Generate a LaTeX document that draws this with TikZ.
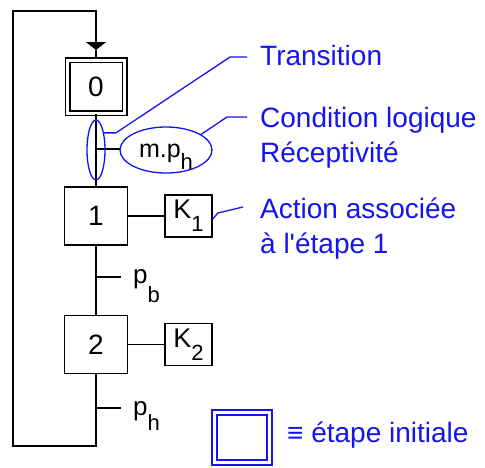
\documentclass[tikz,border=0pt]{standalone}
\usepackage{fontspec}
\setmainfont{Liberation Sans}
\usepackage{tikz}
\usetikzlibrary{arrows.meta,positioning,shapes.geometric}
\definecolor{noteblue}{RGB}{20,20,240}
\newcommand{\lowsub}[2][13pt]{\raisebox{-#1}{\fontsize{22}{22}\selectfont #2}}
\tikzset{
    etape/.style={draw, line width=1.6pt, minimum width=63pt,
                  minimum height=58pt, inner sep=0pt,
                  font=\fontsize{28}{34}\selectfont},
    etapeinit/.style={draw, double, line width=1.5pt, double distance=3pt,
                      minimum width=57pt, minimum height=53pt, inner sep=0pt,
                      font=\fontsize{28}{34}\selectfont},
    action/.style={draw, line width=1.6pt, minimum width=47pt,
                   minimum height=42pt, inner sep=0pt,
                   font=\fontsize{27}{32}\selectfont},
    ring/.style={draw=noteblue, ellipse, line width=1.3pt, inner sep=0pt,
                 font=\fontsize{25}{30}\selectfont},
    note/.style={text=noteblue, anchor=base west, inner sep=0pt,
                 align=left, font=\fontsize{28}{35}\selectfont},
    cond/.style={anchor=base west, inner sep=0pt,
                 font=\fontsize{26}{30}\selectfont},
}
\begin{document}
\begin{tikzpicture}[x=1pt, y=-1pt,
    link/.style={line width=1.6pt},
    leader/.style={noteblue, line width=1.3pt}
]
    \useasboundingbox (0,0) rectangle (485,467);

    % steps and actions
    \node[etapeinit] (e0) at (96,86.5) {0};
    \node[etape] (e1) at (96,216) {1};
    \node[etape] (e2) at (96,344.5) {2};
    \node[action] (k1) at (188.5,216) {K\lowsub{1}};
    \node[action] (k2) at (188.5,344.5) {K\lowsub{2}};

    \coordinate (t0) at (96,149);
    \coordinate (t1) at (96,277);
    \coordinate (t2) at (96,408);
    \coordinate (entry) at (96,50);
    \coordinate (loopbot) at (96,446);
    \coordinate (looptop) at (13,11);

    \draw[link] (e0) -- (e1);
    \draw[link] (e1) -- (e2);
    \draw[link, -{Triangle[width=20pt,length=8pt]}]
        (e2) -- (loopbot) -| (looptop) -| (entry);
    \draw[link] (entry) -- (e0);
    \draw[link] (e1) -- (k1);
    \draw[link] (e2) -- (k2);

    % transitions
    \draw[link] (t0) -- ++(24,0);
    \draw[link] (t1) -- ++(25,0);
    \draw[link] (t2) -- ++(25,0);
    \node[cond] (pb) at (133,283) {p\lowsub[19pt]{b}};
    \node[cond] (ph) at (133,415) {p\lowsub[15pt]{h}};

    % notes
    \node[ring, minimum width=18pt, minimum height=60pt] (trell) at (96,150) {};
    \node[ring, minimum width=92pt, minimum height=46pt] (condell) at (166,150)
        {\raisebox{-7pt}[0pt][0pt]{m.p\lowsub[12pt]{h}}};
    \node[note] (trlab) at (260,65) {Transition};
    \node[note] (condlab) at (260,162) {Condition logique\\Réceptivité};
    \node[note] (actlab) at (260,253) {Action associée\\à l\textquotesingle étape 1};

    \draw[leader] (trell.65) -- ++(12,0)
        -- ([xshift=-30pt,yshift=8pt]trlab.base west)
        -- ([xshift=-13pt,yshift=8pt]trlab.base west);
    \draw[leader] (condell.24)
        -- ([xshift=-33pt,yshift=45pt]condlab.base west)
        -- ([xshift=-13pt,yshift=45pt]condlab.base west);
    \draw[leader] ([yshift=-3pt]k1.east) -- ++(5,-6)
        -- ([xshift=-17pt,yshift=46pt]actlab.base west);

    % legend
    \node[etapeinit, draw=noteblue, line width=2pt, minimum width=55pt,
          minimum height=50pt] (legend) at (242,437.5) {};
    \node[note] (leglab) at (287,442) {≡ étape initiale};
\end{tikzpicture}
\end{document}
